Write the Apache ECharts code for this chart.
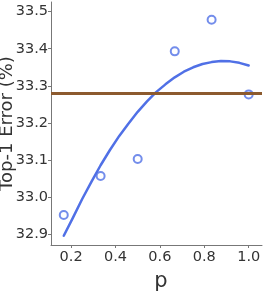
<!DOCTYPE html>
<html>
<head>
<meta charset="utf-8">
<script src="https://cdn.jsdelivr.net/npm/echarts@6/dist/echarts.min.js"></script>
<style>html,body{margin:0;padding:0;background:#fff;}#c{width:264px;height:291px;}</style>
</head>
<body>
<div id="c"></div>
<script>
const pValues = [0.167, 0.333, 0.5, 0.667, 0.833, 1.0];
const errorValues = [32.952, 33.057, 33.103, 33.393, 33.478, 33.277];
const fitP = [0.167, 0.208, 0.25, 0.292, 0.333, 0.375, 0.417, 0.458, 0.5, 0.542, 0.583,
              0.625, 0.667, 0.708, 0.75, 0.792, 0.833, 0.875, 0.917, 0.958, 1.0];
const fitValues = [32.896, 32.944, 32.995, 33.042, 33.086, 33.127, 33.165, 33.198, 33.230, 33.258, 33.283,
                   33.304, 33.323, 33.338, 33.350, 33.359, 33.364, 33.367, 33.366, 33.362, 33.355];
const baselineValue = 33.28;
const xTicks = [0.2, 0.4, 0.6, 0.8, 1.0];
const yTicks = [32.9, 33.0, 33.1, 33.2, 33.3, 33.4, 33.5];

const FONT = 'DejaVu Sans';
const chart = echarts.init(document.getElementById('c'), null, {renderer: 'canvas'});
chart.setOption({
  animation: false,
  grid: {left: 51, right: 2, top: 2, bottom: 46, containLabel: false, outerBoundsMode: 'none'},
  xAxis: {
    type: 'value', min: 0.1095, max: 1.06,
    name: 'p', nameLocation: 'middle', nameGap: 26, nameMoveOverlap: false,
    nameTextStyle: {fontFamily: FONT, fontSize: 21, color: '#333', padding: [0, 0, 0, 9]},
    axisLine: {show: true, lineStyle: {color: '#777', width: 1}},
    axisTick: {show: true, length: 3, customValues: xTicks, lineStyle: {color: '#777'}},
    axisLabel: {customValues: xTicks, margin: 5, fontFamily: FONT, fontSize: 14.5, color: '#333',
      formatter: v => v.toFixed(1)},
    splitLine: {show: false}
  },
  yAxis: {
    type: 'value', min: 32.871, max: 33.526,
    name: 'Top-1 Error (%)', nameLocation: 'middle', nameGap: 35, nameRotate: 90, nameMoveOverlap: false,
    nameTextStyle: {fontFamily: FONT, fontSize: 18, color: '#333', padding: [0, 0, 0, 0]},
    axisLine: {show: true, lineStyle: {color: '#777', width: 1}},
    axisTick: {show: true, length: 3, customValues: yTicks, lineStyle: {color: '#777'}},
    axisLabel: {customValues: yTicks, margin: 3, fontFamily: FONT, fontSize: 14.5, color: '#333',
      formatter: v => v.toFixed(1)},
    splitLine: {show: false}
  },
  series: [
    {
      type: 'line', data: fitP.map((p, i) => [p, fitValues[i]]),
      smooth: false, showSymbol: false, symbol: 'none',
      lineStyle: {color: '#5070e6', width: 2.5, cap: 'round', join: 'round'}, z: 2
    },
    {
      type: 'line', data: [], z: 3,
      markLine: {
        silent: true, symbol: 'none', label: {show: false},
        lineStyle: {color: '#8c5a2e', width: 3, type: 'solid'},
        data: [{yAxis: baselineValue}]
      }
    },
    {
      type: 'scatter', data: pValues.map((p, i) => [p, errorValues[i]]),
      symbol: 'emptyCircle', symbolSize: 8,
      itemStyle: {color: '#5070e6', borderColor: '#5070e6', borderWidth: 1.6}, z: 4
    }
  ]
});
</script>
</body>
</html>
